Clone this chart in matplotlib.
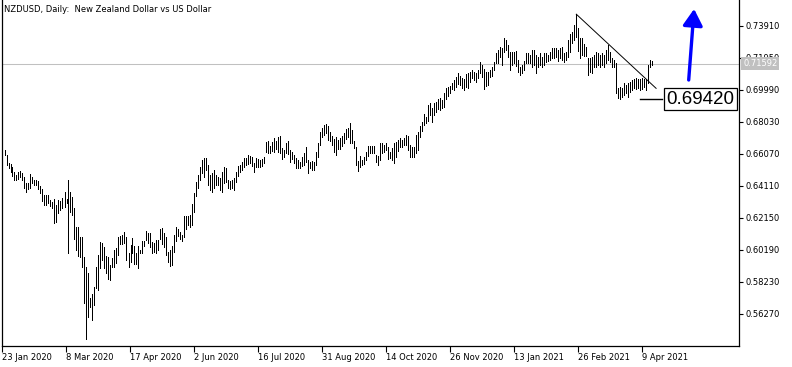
import matplotlib
matplotlib.use("Agg")
import matplotlib.pyplot as plt
import matplotlib.transforms as mtransforms

# daily bars, high / low (oldest first)
highs = [
    0.6632, 0.6601, 0.6550, 0.6546, 0.6527, 0.6499, 0.6478, 0.6499, 0.6505, 0.6492,
    0.6468, 0.6428, 0.6428, 0.6484, 0.6468, 0.6448, 0.6448, 0.6443, 0.6413, 0.6391,
    0.6356, 0.6356, 0.6356, 0.6325, 0.6315, 0.6329, 0.6295, 0.6325, 0.6319, 0.6336,
    0.6376, 0.6329, 0.6448, 0.6376, 0.6346, 0.6274, 0.6162, 0.6158, 0.6100, 0.6100,
    0.5974, 0.5917, 0.5880, 0.5723, 0.5750, 0.5794, 0.5917, 0.5988, 0.6070, 0.6060,
    0.6039, 0.5982, 0.5978, 0.5927, 0.5968, 0.6019, 0.6029, 0.6100, 0.6105, 0.6111,
    0.6131, 0.6100, 0.5999, 0.6050, 0.6091, 0.6044, 0.5999, 0.6044, 0.6019, 0.6074,
    0.6076, 0.6137, 0.6121, 0.6121, 0.6070, 0.6060, 0.6080, 0.6080, 0.6146, 0.6152,
    0.6121, 0.6100, 0.6009, 0.6019, 0.6044, 0.6111, 0.6158, 0.6146, 0.6131, 0.6111,
    0.6227, 0.6227, 0.6227, 0.6233, 0.6301, 0.6366, 0.6435, 0.6478, 0.6529, 0.6570,
    0.6581, 0.6581, 0.6540, 0.6478, 0.6489, 0.6509, 0.6478, 0.6468, 0.6458, 0.6499,
    0.6529, 0.6519, 0.6448, 0.6443, 0.6448, 0.6458, 0.6499, 0.6533, 0.6540, 0.6560,
    0.6581, 0.6581, 0.6601, 0.6595, 0.6590, 0.6550, 0.6581, 0.6575, 0.6570, 0.6575,
    0.6590, 0.6682, 0.6688, 0.6656, 0.6682, 0.6703, 0.6688, 0.6709, 0.6717, 0.6642,
    0.6632, 0.6672, 0.6687, 0.6632, 0.6621, 0.6601, 0.6581, 0.6570, 0.6560, 0.6590,
    0.6611, 0.6652, 0.6570, 0.6560, 0.6566, 0.6560, 0.6621, 0.6672, 0.6744, 0.6764,
    0.6785, 0.6791, 0.6778, 0.6744, 0.6717, 0.6697, 0.6709, 0.6693, 0.6703, 0.6717,
    0.6734, 0.6758, 0.6764, 0.6799, 0.6754, 0.6688, 0.6652, 0.6566, 0.6595, 0.6570,
    0.6590, 0.6621, 0.6656, 0.6656, 0.6656, 0.6656, 0.6601, 0.6595, 0.6672, 0.6672,
    0.6662, 0.6676, 0.6652, 0.6621, 0.6642, 0.6672, 0.6682, 0.6693, 0.6703, 0.6693,
    0.6703, 0.6723, 0.6717, 0.6662, 0.6652, 0.6652, 0.6723, 0.6744, 0.6778, 0.6805,
    0.6852, 0.6835, 0.6907, 0.6918, 0.6887, 0.6918, 0.6927, 0.6942, 0.6948, 0.6938,
    0.6982, 0.7009, 0.7016, 0.7024, 0.7044, 0.7060, 0.7077, 0.7101, 0.7085, 0.7071,
    0.7065, 0.7097, 0.7101, 0.7111, 0.7122, 0.7111, 0.7105, 0.7122, 0.7172, 0.7152,
    0.7126, 0.7111, 0.7111, 0.7122, 0.7142, 0.7172, 0.7224, 0.7244, 0.7264, 0.7254,
    0.7316, 0.7305, 0.7275, 0.7234, 0.7234, 0.7234, 0.7240, 0.7183, 0.7142, 0.7152,
    0.7177, 0.7224, 0.7224, 0.7213, 0.7244, 0.7244, 0.7213, 0.7203, 0.7224, 0.7203,
    0.7224, 0.7224, 0.7213, 0.7234, 0.7254, 0.7258, 0.7254, 0.7244, 0.7254, 0.7264,
    0.7224, 0.7234, 0.7305, 0.7340, 0.7352, 0.7397, 0.7463, 0.7379, 0.7318, 0.7318,
    0.7281, 0.7264, 0.7193, 0.7193, 0.7203, 0.7213, 0.7234, 0.7224, 0.7213, 0.7224,
    0.7213, 0.7244, 0.7275, 0.7234, 0.7193, 0.7183, 0.7163, 0.7009, 0.7019, 0.7009,
    0.7040, 0.7030, 0.7040, 0.7050, 0.7060, 0.7065, 0.7071, 0.7065, 0.7065, 0.7071,
    0.7065, 0.7065, 0.7152, 0.7183, 0.7179,
]
lows = [
    0.6601, 0.6540, 0.6519, 0.6498, 0.6472, 0.6448, 0.6448, 0.6452, 0.6464, 0.6448,
    0.6397, 0.6376, 0.6391, 0.6397, 0.6428, 0.6417, 0.6417, 0.6391, 0.6366, 0.6321,
    0.6294, 0.6294, 0.6305, 0.6288, 0.6274, 0.6186, 0.6192, 0.6244, 0.6264, 0.6278,
    0.6284, 0.6305, 0.6002, 0.6254, 0.6233, 0.6084, 0.6019, 0.5982, 0.5978, 0.5913,
    0.5693, 0.5472, 0.5607, 0.5672, 0.5590, 0.5682, 0.5784, 0.5774, 0.5907, 0.5958,
    0.5907, 0.5876, 0.5839, 0.5835, 0.5917, 0.5917, 0.5938, 0.5988, 0.6056, 0.6056,
    0.6060, 0.5958, 0.5917, 0.5947, 0.5999, 0.5933, 0.5933, 0.5907, 0.5999, 0.6002,
    0.6044, 0.6080, 0.6060, 0.6039, 0.6002, 0.6009, 0.5999, 0.6019, 0.6084, 0.6056,
    0.6039, 0.5988, 0.5947, 0.5921, 0.5927, 0.6009, 0.6076, 0.6105, 0.6084, 0.6076,
    0.6100, 0.6146, 0.6172, 0.6158, 0.6172, 0.6254, 0.6350, 0.6397, 0.6448, 0.6489,
    0.6468, 0.6509, 0.6417, 0.6387, 0.6376, 0.6397, 0.6417, 0.6417, 0.6387, 0.6376,
    0.6428, 0.6437, 0.6397, 0.6391, 0.6397, 0.6387, 0.6437, 0.6472, 0.6499, 0.6509,
    0.6525, 0.6540, 0.6546, 0.6550, 0.6533, 0.6499, 0.6525, 0.6525, 0.6525, 0.6533,
    0.6550, 0.6621, 0.6611, 0.6611, 0.6627, 0.6621, 0.6636, 0.6621, 0.6615, 0.6575,
    0.6590, 0.6611, 0.6607, 0.6560, 0.6575, 0.6550, 0.6519, 0.6519, 0.6519, 0.6533,
    0.6540, 0.6560, 0.6489, 0.6519, 0.6509, 0.6509, 0.6540, 0.6590, 0.6662, 0.6713,
    0.6723, 0.6737, 0.6693, 0.6688, 0.6662, 0.6621, 0.6601, 0.6636, 0.6636, 0.6656,
    0.6672, 0.6697, 0.6713, 0.6676, 0.6672, 0.6642, 0.6540, 0.6505, 0.6525, 0.6540,
    0.6546, 0.6570, 0.6595, 0.6611, 0.6611, 0.6611, 0.6560, 0.6540, 0.6570, 0.6615,
    0.6621, 0.6632, 0.6575, 0.6581, 0.6570, 0.6550, 0.6590, 0.6627, 0.6652, 0.6652,
    0.6662, 0.6662, 0.6632, 0.6590, 0.6587, 0.6587, 0.6611, 0.6632, 0.6709, 0.6750,
    0.6785, 0.6795, 0.6811, 0.6846, 0.6805, 0.6846, 0.6866, 0.6881, 0.6877, 0.6887,
    0.6897, 0.6942, 0.6962, 0.6979, 0.7003, 0.6999, 0.7019, 0.7036, 0.7030, 0.7009,
    0.6999, 0.7019, 0.7009, 0.7050, 0.7071, 0.7060, 0.7050, 0.7071, 0.7101, 0.7080,
    0.7003, 0.7024, 0.7030, 0.7080, 0.7085, 0.7122, 0.7163, 0.7163, 0.7203, 0.7152,
    0.7234, 0.7244, 0.7203, 0.7122, 0.7152, 0.7163, 0.7146, 0.7111, 0.7091, 0.7101,
    0.7122, 0.7163, 0.7163, 0.7163, 0.7142, 0.7152, 0.7101, 0.7142, 0.7152, 0.7142,
    0.7152, 0.7172, 0.7177, 0.7183, 0.7193, 0.7197, 0.7203, 0.7177, 0.7193, 0.7183,
    0.7172, 0.7183, 0.7203, 0.7234, 0.7285, 0.7305, 0.7325, 0.7238, 0.7195, 0.7213,
    0.7207, 0.7207, 0.7091, 0.7111, 0.7101, 0.7142, 0.7142, 0.7152, 0.7142, 0.7152,
    0.7142, 0.7163, 0.7183, 0.7172, 0.7142, 0.7142, 0.6979, 0.6948, 0.6942, 0.6958,
    0.6968, 0.6979, 0.6958, 0.6989, 0.6999, 0.7009, 0.7003, 0.7009, 0.6999, 0.7003,
    0.7016, 0.6999, 0.7040, 0.7142, 0.7152,
]
last_close = 0.71592

date_ticks = [-1, 31, 63, 95, 127, 159, 191, 223, 255, 287, 319]
date_labels = ["23 Jan 2020", "8 Mar 2020", "17 Apr 2020", "2 Jun 2020", "16 Jul 2020",
               "31 Aug 2020", "14 Oct 2020", "26 Nov 2020", "13 Jan 2021",
               "26 Feb 2021", "9 Apr 2021"]
price_ticks = [0.73910, 0.71950, 0.69990, 0.68030, 0.66070,
               0.64110, 0.62150, 0.60190, 0.58230, 0.56270]

# drawn objects
trend_x = [286, 325.9]
trend_y = [0.7463, 0.7009]
level = 0.69420
level_x = [318, 329]
arrow_start = (342.2, 0.7060)
arrow_end = (344.9, 0.7495)

W, H = 792, 367
fig = plt.figure(figsize=(W / 100, H / 100), dpi=100)
ax = fig.add_axes([2 / W, (H - 346) / H, 737 / W, 346 / H])
ax.set_xlim(-1.15, 367.35)
ax.set_ylim(0.5431, 0.7550)

bars = [i + 0.1 for i in range(len(highs))]
ax.vlines(bars, lows, highs, colors="black", linewidth=0.5, antialiased=False, zorder=3)

ax.axhline(last_close, color="#c0c0c0", linewidth=0.75, zorder=2)
ax.plot(trend_x, trend_y, color="black", linewidth=0.7, zorder=4)
ax.plot(level_x, [level, level], color="black", linewidth=1.0, zorder=4)

ax.text(331.2, level, f"{level:.5f}", fontsize=13.5, family="Liberation Sans",
        ha="left", va="center", zorder=6, clip_on=False,
        bbox=dict(boxstyle="square,pad=0.14", facecolor="white", edgecolor="black", linewidth=0.9))

ax.annotate("", xy=arrow_end, xytext=arrow_start,
            arrowprops=dict(arrowstyle="-|>,head_length=10,head_width=6", mutation_scale=1,
                            color="#0000ff", linewidth=2.4, shrinkA=0, shrinkB=0))

# axes look like the terminal window
ax.spines["top"].set_visible(False)
for side in ["left", "bottom", "right"]:
    ax.spines[side].set_linewidth(0.9)

ax.yaxis.tick_right()
ax.set_yticks(price_ticks)
ax.set_yticklabels([f"{v:.5f}" for v in price_ticks])
ax.tick_params(axis="y", direction="out", length=3, width=0.8, pad=1.5, labelsize=6)

ax.set_xticks(date_ticks)
ax.set_xticklabels(date_labels, ha="left")
ax.tick_params(axis="x", direction="out", length=4, width=0.8, pad=1, labelsize=6)

blend = mtransforms.blended_transform_factory(ax.transAxes, ax.transData)
ax.text(1 + 4 / 737, last_close, f"{last_close:.5f}", transform=blend, fontsize=6,
        color="white", ha="left", va="center", zorder=7, clip_on=False,
        bbox=dict(boxstyle="square,pad=0.25", facecolor="#c0c0c0", edgecolor="none"))

fig.text(4 / W, 1 - 9 / H, "NZDUSD, Daily:  New Zealand Dollar vs US Dollar",
         fontsize=6, ha="left", va="center")

fig.savefig("out.png", dpi=100)
